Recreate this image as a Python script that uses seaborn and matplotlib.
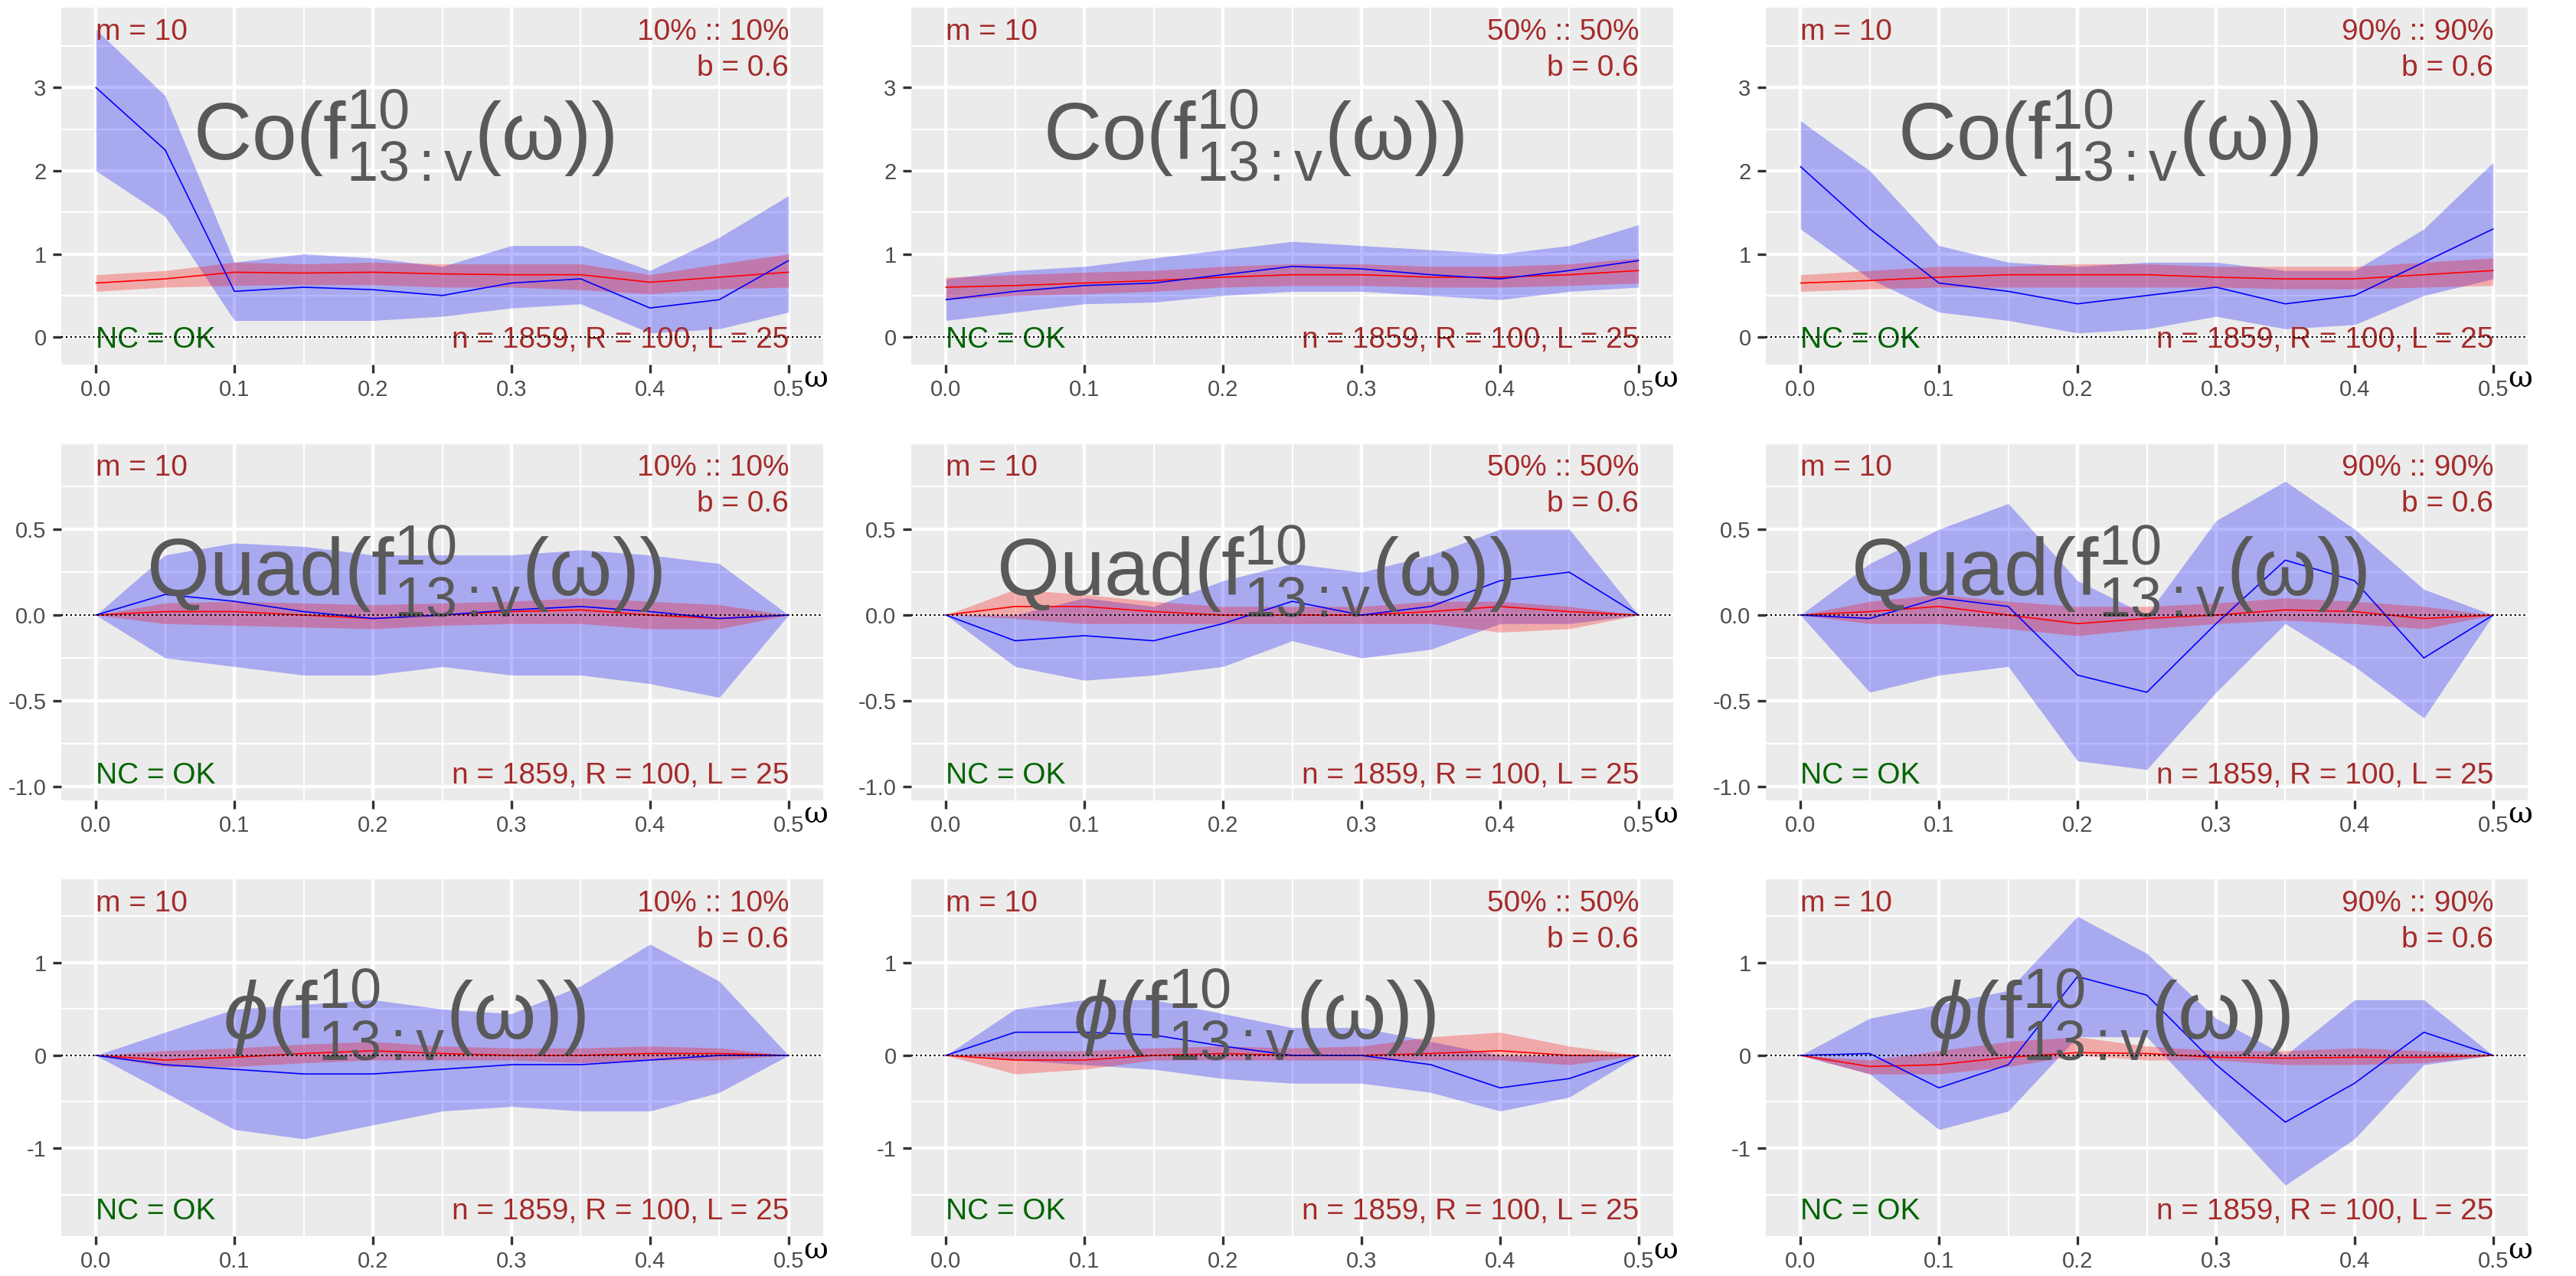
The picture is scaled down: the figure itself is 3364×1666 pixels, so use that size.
import numpy as np
import pandas as pd
import matplotlib
matplotlib.use("Agg")
import matplotlib.pyplot as plt
from matplotlib.ticker import MultipleLocator
import seaborn as sns

omega = [0.0, 0.05, 0.1, 0.15, 0.2, 0.25, 0.3, 0.35, 0.4, 0.45, 0.5]
pcts = ["10% :: 10%", "50% :: 50%", "90% :: 90%"]
row_titles = [r"$\mathrm{Co(f^{10}_{13:v}(\omega))}$",
              r"$\mathrm{Quad(f^{10}_{13:v}(\omega))}$",
              r"$\phi\mathrm{(f^{10}_{13:v}(\omega))}$"]

# Co row
co10_blue = [3.0, 2.25, 0.55, 0.6, 0.57, 0.5, 0.65, 0.7, 0.35, 0.45, 0.92]
co10_blue_lo = [2.0, 1.45, 0.2, 0.2, 0.2, 0.25, 0.35, 0.4, 0.05, 0.1, 0.3]
co10_blue_hi = [3.7, 2.9, 0.9, 1.0, 0.95, 0.85, 1.1, 1.1, 0.8, 1.2, 1.7]
co10_red = [0.65, 0.7, 0.78, 0.77, 0.78, 0.76, 0.75, 0.75, 0.66, 0.72, 0.78]
co10_red_lo = [0.55, 0.6, 0.62, 0.63, 0.63, 0.6, 0.6, 0.57, 0.52, 0.58, 0.6]
co10_red_hi = [0.75, 0.8, 0.9, 0.88, 0.9, 0.88, 0.88, 0.88, 0.75, 0.88, 1.0]

co50_blue = [0.45, 0.55, 0.62, 0.65, 0.75, 0.85, 0.82, 0.75, 0.7, 0.8, 0.92]
co50_blue_lo = [0.2, 0.3, 0.4, 0.42, 0.5, 0.55, 0.55, 0.5, 0.45, 0.55, 0.6]
co50_blue_hi = [0.7, 0.8, 0.85, 0.95, 1.05, 1.15, 1.1, 1.05, 1.0, 1.1, 1.35]
co50_red = [0.6, 0.62, 0.65, 0.68, 0.72, 0.75, 0.75, 0.72, 0.72, 0.75, 0.8]
co50_red_lo = [0.45, 0.5, 0.52, 0.55, 0.6, 0.62, 0.62, 0.6, 0.6, 0.62, 0.65]
co50_red_hi = [0.72, 0.75, 0.78, 0.8, 0.85, 0.88, 0.88, 0.85, 0.85, 0.88, 0.95]

co90_blue = [2.05, 1.3, 0.65, 0.55, 0.4, 0.5, 0.6, 0.4, 0.5, 0.9, 1.3]
co90_blue_lo = [1.3, 0.7, 0.3, 0.2, 0.05, 0.1, 0.25, 0.1, 0.15, 0.5, 0.7]
co90_blue_hi = [2.6, 2.0, 1.1, 0.9, 0.85, 0.9, 0.9, 0.8, 0.8, 1.3, 2.1]
co90_red = [0.65, 0.68, 0.72, 0.75, 0.75, 0.75, 0.72, 0.7, 0.7, 0.75, 0.8]
co90_red_lo = [0.55, 0.58, 0.6, 0.6, 0.6, 0.6, 0.6, 0.58, 0.58, 0.6, 0.62]
co90_red_hi = [0.75, 0.8, 0.85, 0.85, 0.88, 0.88, 0.85, 0.85, 0.85, 0.9, 0.95]

# Quad row
qu10_blue = [0, 0.12, 0.08, 0.02, -0.02, 0.0, 0.03, 0.05, 0.02, -0.02, 0]
qu10_blue_lo = [0, -0.25, -0.3, -0.35, -0.35, -0.3, -0.35, -0.35, -0.4, -0.48, 0]
qu10_blue_hi = [0, 0.35, 0.42, 0.4, 0.35, 0.35, 0.35, 0.38, 0.35, 0.3, 0]
qu10_red = [0, 0.02, 0.02, 0.0, -0.02, 0.0, 0.02, 0.03, 0.0, -0.02, 0]
qu10_red_lo = [0, -0.05, -0.06, -0.07, -0.08, -0.06, -0.05, -0.05, -0.08, -0.08, 0]
qu10_red_hi = [0, 0.07, 0.08, 0.07, 0.06, 0.07, 0.08, 0.1, 0.08, 0.06, 0]

qu50_blue = [0, -0.15, -0.12, -0.15, -0.05, 0.08, 0.0, 0.05, 0.2, 0.25, 0]
qu50_blue_lo = [0, -0.3, -0.38, -0.35, -0.3, -0.15, -0.25, -0.2, -0.05, -0.05, 0]
qu50_blue_hi = [0, 0.0, 0.1, 0.05, 0.2, 0.3, 0.25, 0.35, 0.5, 0.5, 0]
qu50_red = [0, 0.05, 0.05, 0.02, 0.0, 0.0, 0.0, 0.02, 0.05, 0.02, 0]
qu50_red_lo = [0, -0.02, -0.05, -0.05, -0.05, -0.05, -0.05, -0.05, -0.1, -0.08, 0]
qu50_red_hi = [0, 0.15, 0.12, 0.08, 0.05, 0.05, 0.05, 0.08, 0.08, 0.05, 0]

qu90_blue = [0, -0.02, 0.1, 0.05, -0.35, -0.45, -0.05, 0.32, 0.2, -0.25, 0]
qu90_blue_lo = [0, -0.45, -0.35, -0.3, -0.85, -0.9, -0.45, -0.05, -0.3, -0.6, 0]
qu90_blue_hi = [0, 0.3, 0.5, 0.65, 0.2, 0.0, 0.55, 0.78, 0.5, 0.15, 0]
qu90_red = [0, 0.02, 0.05, 0.0, -0.05, -0.02, 0.0, 0.03, 0.02, -0.02, 0]
qu90_red_lo = [0, -0.05, -0.05, -0.08, -0.12, -0.08, -0.05, -0.03, -0.05, -0.08, 0]
qu90_red_hi = [0, 0.08, 0.12, 0.08, 0.05, 0.05, 0.07, 0.1, 0.08, 0.05, 0]

# Phase row
ph10_blue = [0, -0.1, -0.15, -0.2, -0.2, -0.15, -0.1, -0.1, -0.05, 0.0, 0]
ph10_blue_lo = [0, -0.4, -0.8, -0.9, -0.75, -0.6, -0.55, -0.6, -0.6, -0.4, 0]
ph10_blue_hi = [0, 0.25, 0.5, 0.55, 0.6, 0.5, 0.45, 0.75, 1.2, 0.8, 0]
ph10_red = [0, -0.05, -0.02, 0.02, 0.05, 0.02, 0.0, 0.0, 0.02, 0.02, 0]
ph10_red_lo = [0, -0.12, -0.12, -0.08, -0.05, -0.05, -0.05, -0.08, -0.05, -0.05, 0]
ph10_red_hi = [0, 0.05, 0.08, 0.12, 0.15, 0.1, 0.08, 0.08, 0.1, 0.08, 0]

ph50_blue = [0, 0.25, 0.25, 0.22, 0.1, 0.0, 0.0, -0.1, -0.35, -0.25, 0]
ph50_blue_lo = [0, -0.05, -0.1, -0.15, -0.25, -0.3, -0.3, -0.4, -0.6, -0.45, 0]
ph50_blue_hi = [0, 0.5, 0.6, 0.6, 0.45, 0.3, 0.3, 0.15, 0.0, 0.0, 0]
ph50_red = [0, -0.05, -0.05, 0.0, 0.02, 0.0, 0.0, 0.02, 0.05, 0.0, 0]
ph50_red_lo = [0, -0.2, -0.15, -0.05, -0.05, -0.05, -0.05, -0.05, -0.05, -0.1, 0]
ph50_red_hi = [0, 0.05, 0.05, 0.08, 0.1, 0.08, 0.1, 0.2, 0.25, 0.1, 0]

ph90_blue = [0, 0.02, -0.35, -0.1, 0.85, 0.65, -0.1, -0.72, -0.3, 0.25, 0]
ph90_blue_lo = [0, -0.2, -0.8, -0.6, 0.2, 0.2, -0.6, -1.4, -0.9, -0.1, 0]
ph90_blue_hi = [0, 0.4, 0.55, 0.7, 1.5, 1.1, 0.4, 0.0, 0.6, 0.6, 0]
ph90_red = [0, -0.12, -0.1, -0.02, 0.03, 0.02, -0.02, -0.03, -0.02, -0.02, 0]
ph90_red_lo = [0, -0.2, -0.2, -0.12, 0.0, -0.05, -0.05, -0.1, -0.1, -0.08, 0]
ph90_red_hi = [0, -0.05, 0.05, 0.15, 0.2, 0.1, 0.05, 0.05, 0.08, 0.05, 0]

panels = [
    [(co10_blue, co10_blue_lo, co10_blue_hi, co10_red, co10_red_lo, co10_red_hi),
     (co50_blue, co50_blue_lo, co50_blue_hi, co50_red, co50_red_lo, co50_red_hi),
     (co90_blue, co90_blue_lo, co90_blue_hi, co90_red, co90_red_lo, co90_red_hi)],
    [(qu10_blue, qu10_blue_lo, qu10_blue_hi, qu10_red, qu10_red_lo, qu10_red_hi),
     (qu50_blue, qu50_blue_lo, qu50_blue_hi, qu50_red, qu50_red_lo, qu50_red_hi),
     (qu90_blue, qu90_blue_lo, qu90_blue_hi, qu90_red, qu90_red_lo, qu90_red_hi)],
    [(ph10_blue, ph10_blue_lo, ph10_blue_hi, ph10_red, ph10_red_lo, ph10_red_hi),
     (ph50_blue, ph50_blue_lo, ph50_blue_hi, ph50_red, ph50_red_lo, ph50_red_hi),
     (ph90_blue, ph90_blue_lo, ph90_blue_hi, ph90_red, ph90_red_lo, ph90_red_hi)],
]

sns.set_theme(style="darkgrid")
fams = ["Liberation Sans", "DejaVu Sans"]
plt.rcParams["font.family"] = fams
plt.rcParams["mathtext.fontset"] = "custom"
plt.rcParams["mathtext.rm"] = "Liberation Sans"
plt.rcParams["mathtext.it"] = "Liberation Sans:italic"
plt.rcParams["axes.facecolor"] = "#EBEBEB"

W, H = 3364, 1666
fig = plt.figure(figsize=(W / 200, H / 200), dpi=200)
lefts = [80, 1190, 2306]
tops = [10, 579, 1148]
aw, ah = 995, 466
ylims = [(-0.33, 3.96), (-1.08, 1.0), (-1.95, 1.9)]
ymaj = [1.0, 0.5, 1.0]
title_y = [0.64, 0.64, 0.62]
dark_red = "#A52A2A"

for r in range(3):
    for c in range(3):
        ax = fig.add_axes([lefts[c] / W, 1 - (tops[r] + ah) / H, aw / W, ah / H])
        ax.set_facecolor("#EBEBEB")
        b, blo, bhi, rd, rlo, rhi = panels[r][c]
        df = pd.DataFrame({"omega": omega, "blue": b, "red": rd})
        ax.fill_between(omega, blo, bhi, color="#0000FF", alpha=0.28, lw=0, zorder=2)
        ax.fill_between(omega, rlo, rhi, color="#FF0000", alpha=0.28, lw=0, zorder=2)
        sns.lineplot(data=df, x="omega", y="red", ax=ax, color="red", lw=0.6, zorder=3)
        sns.lineplot(data=df, x="omega", y="blue", ax=ax, color="blue", lw=0.6, zorder=3)
        ax.axhline(0, color="black", ls=":", lw=0.8, zorder=4)
        ax.xaxis.set_minor_locator(MultipleLocator(0.05))
        ax.yaxis.set_minor_locator(MultipleLocator(ymaj[r] / 2))
        if r == 1:
            ax.set_yticks([-1.0, -0.5, 0.0, 0.5])
            ax.set_yticklabels(["-1.0", "-0.5", "0.0", "0.5"])
        elif r == 0:
            ax.set_yticks([0, 1, 2, 3])
            ax.set_yticklabels(["0", "1", "2", "3"])
        else:
            ax.set_yticks([-1, 0, 1])
            ax.set_yticklabels(["-1", "0", "1"])
        ax.set_xlim(-0.025, 0.525)
        ax.set_ylim(*ylims[r])
        ax.set_xticks([0, 0.1, 0.2, 0.3, 0.4, 0.5])
        ax.set_xticklabels(["0.0", "0.1", "0.2", "0.3", "0.4", "0.5"])
        ax.grid(which="major", color="white", lw=1.6)
        ax.grid(which="minor", color="white", lw=0.8)
        ax.tick_params(which="major", length=4, width=1.2, color="#333333",
                       labelsize=10.5, labelcolor="#4D4D4D", pad=3)
        ax.tick_params(which="minor", length=0)
        ax.tick_params(axis="x", bottom=True)
        ax.tick_params(axis="y", left=True)
        for s in ax.spines.values():
            s.set_visible(False)
        ax.set_xlabel("")
        ax.set_ylabel("")
        tr = ax.transAxes
        ax.text(0.045, 0.97, "m = 10", transform=tr, color=dark_red, fontsize=14,
                ha="left", va="top")
        ax.text(0.955, 0.97, pcts[c], transform=tr, color=dark_red, fontsize=14,
                ha="right", va="top")
        ax.text(0.955, 0.87, "b = 0.6", transform=tr, color=dark_red, fontsize=14,
                ha="right", va="top")
        ax.text(0.045, 0.03, "NC = OK", transform=tr, color="#006400", fontsize=14,
                ha="left", va="bottom")
        ax.text(0.955, 0.03, "n = 1859, R = 100, L = 25", transform=tr,
                color=dark_red, fontsize=14, ha="right", va="bottom")
        ax.text(0.45, title_y[r], row_titles[r], transform=tr, color="#595959",
                fontsize=38, ha="center", va="center")
        ax.text(0.99, 0.0, "ω", transform=tr, color="black", fontsize=14,
                family=["DejaVu Serif"], ha="center", va="top")

fig.savefig("out.png", dpi=200, facecolor="white")
